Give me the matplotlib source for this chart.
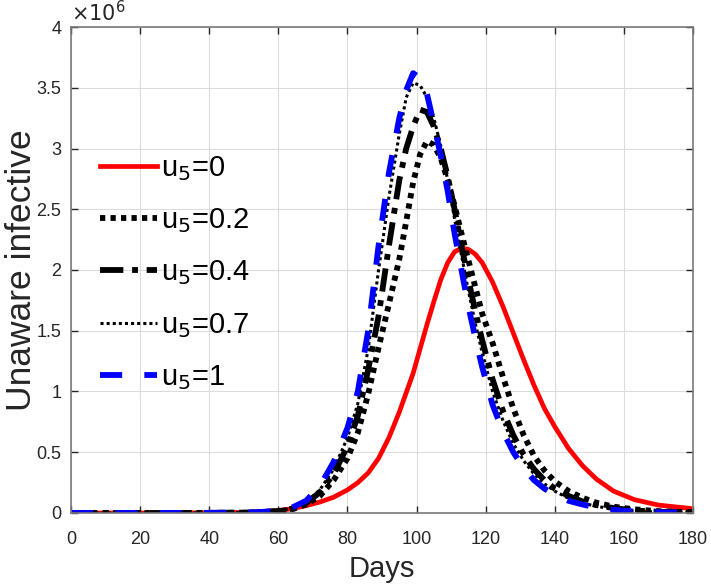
import matplotlib.pyplot as plt
import matplotlib.ticker as mticker

plt.rcParams['font.family'] = ['Liberation Sans', 'DejaVu Sans']

days = [0, 10, 20, 30, 40, 50, 55, 60, 64, 68, 72, 76, 80, 83, 86, 89, 92, 95, 97, 99,
        101, 103, 105, 107, 109, 111, 113, 115, 117, 119, 122, 125, 128, 131, 134,
        137, 140, 144, 148, 152, 157, 163, 170, 180]

# unaware infective, in millions
u5_0 = [0, 0, 0, 0, 0.002, 0.005, 0.01, 0.02, 0.035, 0.06, 0.09, 0.13, 0.19, 0.25,
        0.33, 0.45, 0.62, 0.83, 0.99, 1.15, 1.35, 1.55, 1.74, 1.92, 2.06, 2.15, 2.18,
        2.17, 2.13, 2.06, 1.9, 1.7, 1.48, 1.26, 1.05, 0.86, 0.71, 0.53, 0.39, 0.28,
        0.18, 0.11, 0.065, 0.035]
u5_02 = [0, 0, 0, 0, 0.001, 0.003, 0.006, 0.014, 0.03, 0.07, 0.14, 0.27, 0.45, 0.66,
         0.98, 1.36, 1.72, 2.09, 2.4, 2.72, 2.95, 3.06, 3.03, 2.92, 2.74, 2.53, 2.3,
         2.08, 1.86, 1.64, 1.4, 1.12, 0.86, 0.64, 0.47, 0.35, 0.26, 0.18, 0.125,
         0.085, 0.052, 0.03, 0.015, 0.006]
u5_04 = [0, 0, 0, 0, 0.001, 0.003, 0.007, 0.016, 0.036, 0.08, 0.17, 0.32, 0.55, 0.8,
         1.18, 1.62, 2.2, 2.74, 3.0, 3.18, 3.32, 3.3, 3.18, 3.0, 2.77, 2.5, 2.2, 1.92,
         1.66, 1.42, 1.1, 0.84, 0.64, 0.48, 0.36, 0.27, 0.2, 0.14, 0.095, 0.065,
         0.04, 0.02, 0.01, 0.004]
u5_07 = [0, 0, 0, 0, 0.001, 0.004, 0.008, 0.018, 0.04, 0.09, 0.19, 0.36, 0.62, 0.9,
         1.35, 2.0, 2.6, 3.12, 3.42, 3.54, 3.52, 3.42, 3.25, 3.02, 2.74, 2.42, 2.12,
         1.83, 1.56, 1.32, 1.0, 0.76, 0.57, 0.43, 0.32, 0.24, 0.18, 0.12, 0.082,
         0.055, 0.033, 0.017, 0.008, 0.003]
u5_1 = [0, 0, 0, 0, 0.001, 0.004, 0.008, 0.02, 0.045, 0.1, 0.22, 0.42, 0.7, 1.0, 1.5,
        2.2, 2.8, 3.25, 3.48, 3.62, 3.58, 3.45, 3.2, 2.94, 2.65, 2.3, 2.0, 1.7, 1.44,
        1.2, 0.89, 0.67, 0.5, 0.37, 0.27, 0.2, 0.15, 0.1, 0.07, 0.045, 0.025, 0.012,
        0.006, 0.002]

labels = ['u$_5$=0', 'u$_5$=0.2', 'u$_5$=0.4', 'u$_5$=0.7', 'u$_5$=1']
series = [u5_0, u5_02, u5_04, u5_07, u5_1]
styles = [
    dict(color='#ff0000', linestyle='-', linewidth=3.4),
    dict(color='black', linestyle=(0, (0.9, 0.9)), linewidth=4.2),
    dict(color='black', linestyle=(0, (4, 1.5, 1, 1.5)), linewidth=4.2),
    dict(color='black', linestyle=(0, (1, 1)), linewidth=2.2),
    dict(color='#0000ff', linestyle=(0, (3.8, 3.8)), linewidth=4.2),
]

fig = plt.figure(figsize=(7.11, 5.86), dpi=100)
ax = fig.add_axes([0.0999, 0.1246, 0.8748, 0.8293])

for vals, lab, st in zip(series, labels, styles):
    ax.plot(days, [v * 1e6 for v in vals], label=lab, **st)

ax.set_xlim(0, 180)
ax.set_ylim(0, 4e6)
ax.set_xticks(range(0, 181, 20))
ax.set_yticks([i * 0.5e6 for i in range(9)])
ax.yaxis.set_major_formatter(mticker.FuncFormatter(lambda v, p: '%g' % (v / 1e6)))
ax.grid(True, color='#dcdcdc', linewidth=0.8)
ax.set_axisbelow(True)
ax.tick_params(direction='in', top=True, right=True, labelsize=13,
               colors='#262626', length=5, width=1)
ax.tick_params(axis='x', pad=13)
ax.tick_params(axis='y', pad=7)
for sp in ax.spines.values():
    sp.set_color('#7a7a7a')
    sp.set_linewidth(1.2)

ax.text(0, 1.004, r'$\times10^{6}$', transform=ax.transAxes, ha='left', va='bottom',
        fontsize=15, color='#262626')

ax.set_xlabel('Days', fontsize=21, color='#262626', labelpad=5)
ax.set_ylabel('Unaware infective', fontsize=25.5, color='#262626', labelpad=-1)

ax.legend(loc='upper left', bbox_to_anchor=(0.005, 0.792), frameon=False, fontsize=21,
          handlelength=1.95, handletextpad=0.12, labelspacing=0.80)

fig.savefig('out.png', dpi=100)
